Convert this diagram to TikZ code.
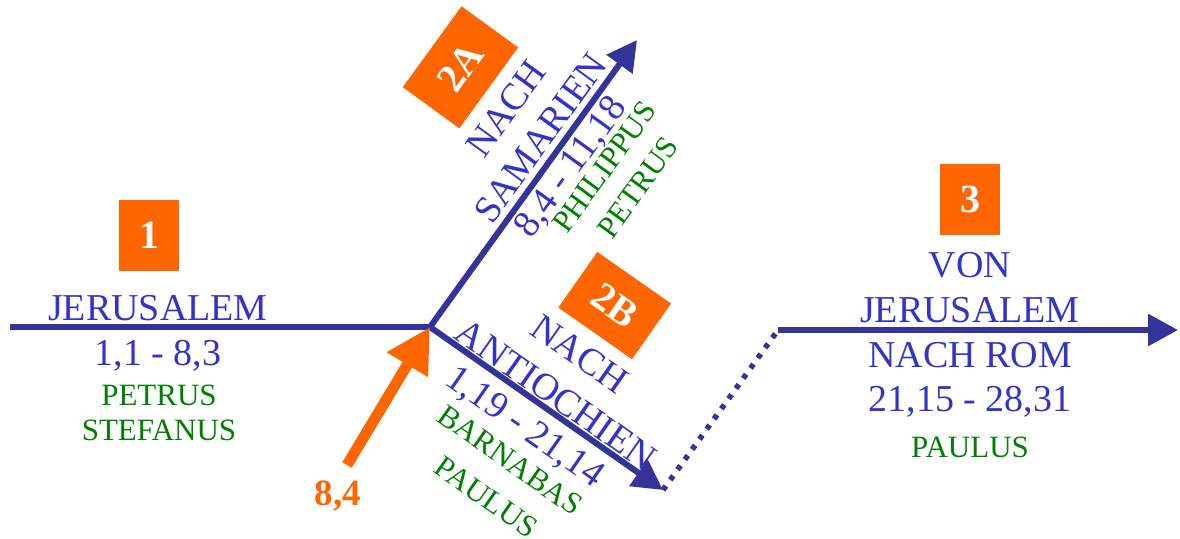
\documentclass[tikz,border=0pt]{standalone}
\usepackage{fontspec}
\setmainfont{Liberation Serif}
\usetikzlibrary{arrows.meta}

\definecolor{linblue}{HTML}{333399}
\definecolor{txtblue}{HTML}{3333CC}
\definecolor{txtgreen}{HTML}{008000}
\definecolor{boxorange}{HTML}{FF6600}

\tikzset{
  route/.style={draw=linblue, line width=3pt, -{Triangle[length=15pt,width=15.5pt]}},
  place/.style={text=txtblue, font=\fontsize{19}{22}\selectfont, text depth=0pt, inner sep=0pt},
  who/.style={text=txtgreen, font=\fontsize{15.5}{18}\selectfont, text depth=0pt, inner sep=0pt},
  stage/.style={fill=boxorange, text=white, font=\fontsize{20}{24}\selectfont\bfseries, inner sep=0pt},
}

\begin{document}
\begin{tikzpicture}[x=0.5pt, y=-0.5pt]
\useasboundingbox (0,0) rectangle (1180,538);

% Wegpunkte
\coordinate (jerstart) at (10,327);
\coordinate (jct) at (430,327);
\coordinate (samtip) at (637,40);
\coordinate (anttip) at (663,490);
\coordinate (romstart) at (778,330);
\coordinate (romtip) at (1178,330);
\coordinate (orgtail) at (347,465);

% Strecken
\draw[linblue, line width=3pt] (jerstart) -- (jct);
\draw[route] (jct) -- (samtip);
\draw[route] (jct) -- (anttip);
\draw[linblue, line width=2.75pt, dash pattern=on 2.5pt off 3.75pt] (anttip) -- (romstart);
\draw[route] (romstart) -- (romtip);
\draw[boxorange, line width=5.5pt, -{Triangle[length=22pt,width=22.5pt]}] (orgtail) -- (jct);

% 1: Jerusalem
\node[stage, minimum width=30pt, minimum height=35.5pt] (st1) at (149,235.5) {1};
\node[place, anchor=base] (jer) at (158,320) {JERUSALEM};
\node[place, anchor=base] (jerref) at (158,365) {1,1 - 8,3};
\node[who, anchor=base] (jerwho1) at (159,405) {PETRUS};
\node[who, anchor=base] (jerwho2) at (159,440) {STEFANUS};

% Wendepunkt
\node[text=boxorange, font=\fontsize{18.5}{22}\selectfont\bfseries, anchor=base, inner sep=0pt] (turn) at (338,505) {8,4};

% 2A: Samarien
\begin{scope}[shift={(jct)}, rotate=54, transform shape]
  \node[stage, minimum width=50pt, minimum height=35pt] (st2a) at (228,-128) {2A};
  \node[place] (sam1) at (221,-67) {NACH};
  \node[place] (sam2) at (218,-22) {SAMARIEN};
  \node[place] (samref) at (212,18) {8,4 - 11,18};
  \node[who] (samwho1) at (232,47) {PHILIPPUS};
  \node[who] (samwho2) at (235,86) {PETRUS};
\end{scope}

% 2B: Antiochien
\begin{scope}[shift={(jct)}, rotate=-35, transform shape]
  \node[stage, minimum width=45pt, minimum height=34pt] (st2b) at (139,-123.5) {2B};
  \node[place] (ant1) at (138,-64) {NACH};
  \node[place] (ant2) at (142,-17) {ANTIOCHIEN};
  \node[place] (antref) at (135,26) {1,19 - 21,14};
  \node[who] (antwho1) at (142,63) {BARNABAS};
  \node[who] (antwho2) at (144,107) {PAULUS};
\end{scope}

% 3: Rom
\node[stage, minimum width=30pt, minimum height=35.5pt] (st3) at (970,199.5) {3};
\node[place, anchor=base] (rom1) at (970,277) {VON};
\node[place, anchor=base] (rom2) at (970,322) {JERUSALEM};
\node[place, anchor=base] (rom3) at (970,367) {NACH ROM};
\node[place, anchor=base] (romref) at (970,411) {21,15 - 28,31};
\node[who, anchor=base] (romwho) at (970,457) {PAULUS};
\end{tikzpicture}
\end{document}
